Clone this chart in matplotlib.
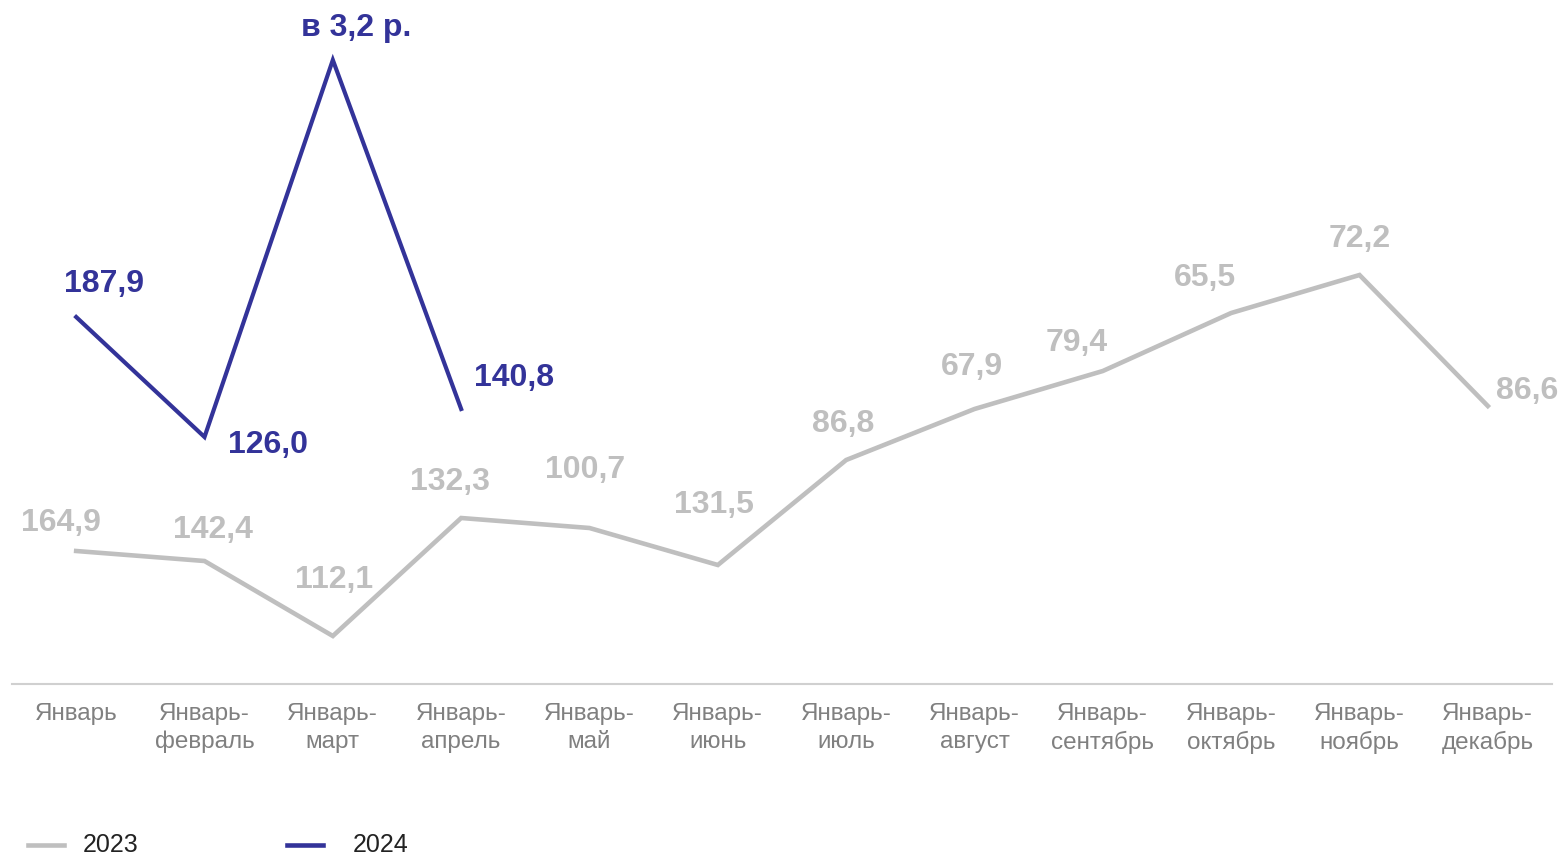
import matplotlib.pyplot as plt
from matplotlib.lines import Line2D

plt.rcParams['font.family'] = ['Liberation Sans', 'DejaVu Sans']

# категории (накопительным итогом)
periods = ["Январь", "Январь-\nфевраль", "Январь-\nмарт", "Январь-\nапрель",
           "Январь-\nмай", "Январь-\nиюнь", "Январь-\nиюль", "Январь-\nавгуст",
           "Январь-\nсентябрь", "Январь-\nоктябрь", "Январь-\nноябрь", "Январь-\nдекабрь"]
years = ["2023", "2024"]

# положение линий (условные единицы)
line_2023 = [133, 123, 48, 166, 156, 119, 224, 275, 313, 371, 409, 278]
line_2024 = [367, 247, 624, 275]

# подписи значений
labels_2023 = ["164,9", "142,4", "112,1", "132,3", "100,7", "131,5",
               "86,8", "67,9", "79,4", "65,5", "72,2", "86,6"]
labels_2024 = ["187,9", "126,0", "в 3,2 р.", "140,8"]

# сдвиги подписей (в пунктах)
off_2023 = [(-11, 20), (6, 22), (1, 40), (-8, 26), (-3, 42), (-3, 43),
            (-2, 26), (-2, 30), (-19, 20), (-19, 25), (0, 26), (28, 11)]
off_2024 = [(20, 24), (46, -6), (17, 23), (38, 22)]

grey = "#bfbfbf"
navy = "#333399"

fig = plt.figure(figsize=(15.6, 8.55), dpi=100)
ax = fig.add_axes([12 / 1560, 171 / 855, 1540 / 1560, 684 / 855])

x23 = list(range(len(line_2023)))
x24 = list(range(len(line_2024)))
ax.plot(x23, line_2023, color=grey, lw=3.3, solid_joinstyle='miter')
ax.plot(x24, line_2024, color=navy, lw=3.0, solid_joinstyle='miter')

for xi, yi, t, o in zip(x23, line_2023, labels_2023, off_2023):
    ax.annotate(t, (xi, yi), xytext=o, textcoords='offset points',
                ha='center', va='center', fontsize=23, fontweight='bold', color=grey)
for xi, yi, t, o in zip(x24, line_2024, labels_2024, off_2024):
    ax.annotate(t, (xi, yi), xytext=o, textcoords='offset points',
                ha='center', va='center', fontsize=23, fontweight='bold', color=navy)

ax.set_xlim(-0.5, len(periods) - 0.5)
ax.set_ylim(0, 684)
ax.set_xticks(x23)
ax.set_xticklabels(periods, fontsize=17.5, color="#808080", linespacing=1.3)
ax.tick_params(axis='x', length=0, pad=14)
ax.set_yticks([])
for s in ["top", "right", "left"]:
    ax.spines[s].set_visible(False)
ax.spines["bottom"].set_color("#d0d0d0")
ax.spines["bottom"].set_linewidth(1.5)

# легенда внизу слева
ly = 1 - 845 / 855
for (x0, x1, tx), col, name in zip([(28, 64, 83), (287, 323, 353)], [grey, navy], years):
    fig.add_artist(Line2D([x0 / 1560, x1 / 1560], [ly, ly], color=col, lw=3.3,
                          transform=fig.transFigure))
    fig.text(tx / 1560, ly, name, fontsize=18, va='center', ha='left', color="#222222")

fig.savefig("out.png", dpi=100)
